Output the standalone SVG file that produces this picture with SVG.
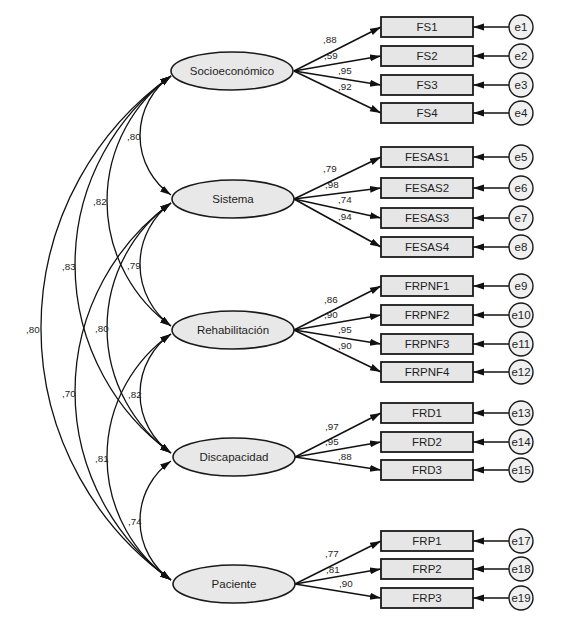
<svg xmlns="http://www.w3.org/2000/svg" width="565" height="623" viewBox="0 0 565 623">
<style>
text{font-family:"Liberation Sans",Arial,sans-serif;fill:#1e1e1e}
.lat{fill:#e8e8e8;stroke:#1a1a1a;stroke-width:1.6}
.box{fill:#e6e6e6;stroke:#1a1a1a;stroke-width:1.8}
.err{fill:#f0f0f0;stroke:#1a1a1a;stroke-width:1.4}
.nl{font-size:11.5px;text-anchor:middle}
.lb{font-size:9.8px}
.ld{stroke:#111;stroke-width:1.5;fill:none;marker-end:url(#ah)}
.cv{stroke:#111;stroke-width:1.3;fill:none;marker-end:url(#ah);marker-start:url(#ah)}
</style>
<defs>
<marker id="ah" markerUnits="userSpaceOnUse" markerWidth="12" markerHeight="8" refX="11" refY="3.5" orient="auto-start-reverse">
<path d="M0,0 L11,3.5 L0,7 z" fill="#111"/>
</marker>
</defs>
<g id="connectors">
<path class="ld" d="M294 71 L381 27"/>
<path class="ld" d="M294 71 L381 56"/>
<path class="ld" d="M294 71 L381 85"/>
<path class="ld" d="M294 71 L381 113"/>
<path class="ld" d="M294 199 L381 157"/>
<path class="ld" d="M294 199 L381 188"/>
<path class="ld" d="M294 199 L381 218"/>
<path class="ld" d="M294 199 L381 247"/>
<path class="ld" d="M294 330 L381 286"/>
<path class="ld" d="M294 330 L381 315"/>
<path class="ld" d="M294 330 L381 344"/>
<path class="ld" d="M294 330 L381 372"/>
<path class="ld" d="M295 457 L381 413"/>
<path class="ld" d="M295 457 L381 442"/>
<path class="ld" d="M295 457 L381 470"/>
<path class="ld" d="M295 584 L381 541"/>
<path class="ld" d="M295 584 L381 569"/>
<path class="ld" d="M295 584 L381 598"/>
<path class="ld" d="M509 27 L473 27"/>
<path class="ld" d="M509 56 L473 56"/>
<path class="ld" d="M509 85 L473 85"/>
<path class="ld" d="M509 113 L473 113"/>
<path class="ld" d="M509 157 L473 157"/>
<path class="ld" d="M509 188 L473 188"/>
<path class="ld" d="M509 218 L473 218"/>
<path class="ld" d="M509 247 L473 247"/>
<path class="ld" d="M509 286 L473 286"/>
<path class="ld" d="M509 315 L473 315"/>
<path class="ld" d="M509 344 L473 344"/>
<path class="ld" d="M509 372 L473 372"/>
<path class="ld" d="M509 413 L473 413"/>
<path class="ld" d="M509 442 L473 442"/>
<path class="ld" d="M509 470 L473 470"/>
<path class="ld" d="M509 541 L473 541"/>
<path class="ld" d="M509 569 L473 569"/>
<path class="ld" d="M509 598 L473 598"/>
<path class="cv" d="M171 76 A72.6 72.6 0 0 0 171 195"/>
<path class="cv" d="M171 76 A154.1 154.1 0 0 0 171 326"/>
<path class="cv" d="M171 76 A233.1 233.1 0 0 0 171 453"/>
<path class="cv" d="M171 76 A309.2 309.2 0 0 0 171 580"/>
<path class="cv" d="M171 203 A76.5 76.5 0 0 0 171 326"/>
<path class="cv" d="M171 203 A154.1 154.1 0 0 0 171 453"/>
<path class="cv" d="M171 203 A233.1 233.1 0 0 0 171 580"/>
<path class="cv" d="M171 334 A72.6 72.6 0 0 0 171 453"/>
<path class="cv" d="M171 334 A150.2 150.2 0 0 0 171 580"/>
<path class="cv" d="M171 461 A72.6 72.6 0 0 0 171 580"/>
<g class="lb">
<text x="323" y="43">,88</text>
<text x="324" y="59">,59</text>
<text x="338" y="74">,95</text>
<text x="338" y="90">,92</text>
<text x="323" y="172">,79</text>
<text x="325" y="188">,98</text>
<text x="338" y="203">,74</text>
<text x="338" y="220">,94</text>
<text x="324" y="303">,86</text>
<text x="324" y="318">,90</text>
<text x="338" y="333">,95</text>
<text x="338" y="349">,90</text>
<text x="325" y="430">,97</text>
<text x="325" y="445">,95</text>
<text x="338" y="460">,88</text>
<text x="325" y="557">,77</text>
<text x="326" y="573">,81</text>
<text x="339" y="587">,90</text>
<text x="127" y="140">,80</text>
<text x="93" y="205">,82</text>
<text x="62" y="270">,83</text>
<text x="26" y="333">,80</text>
<text x="127" y="269">,79</text>
<text x="95" y="332">,80</text>
<text x="62" y="397">,70</text>
<text x="128" y="398">,82</text>
<text x="95" y="462">,81</text>
<text x="128" y="525">,74</text>
</g>
</g>
<g id="socioeconomico"><ellipse class="lat" cx="232" cy="71" rx="61" ry="19"/><text class="nl" x="232" y="75">Socioeconómico</text></g>
<g id="sistema"><ellipse class="lat" cx="233" cy="199" rx="61" ry="19"/><text class="nl" x="233" y="203">Sistema</text></g>
<g id="rehabilitacion"><ellipse class="lat" cx="233" cy="330" rx="61" ry="19"/><text class="nl" x="233" y="334">Rehabilitación</text></g>
<g id="discapacidad"><ellipse class="lat" cx="234" cy="457" rx="61" ry="19"/><text class="nl" x="234" y="461">Discapacidad</text></g>
<g id="paciente"><ellipse class="lat" cx="234" cy="584" rx="61" ry="19"/><text class="nl" x="234" y="588">Paciente</text></g>
<g id="FS1"><rect class="box" x="381" y="17" width="92" height="20"/><text class="nl" x="427" y="31">FS1</text></g>
<g id="FS2"><rect class="box" x="381" y="46" width="92" height="20"/><text class="nl" x="427" y="60">FS2</text></g>
<g id="FS3"><rect class="box" x="381" y="75" width="92" height="20"/><text class="nl" x="427" y="89">FS3</text></g>
<g id="FS4"><rect class="box" x="381" y="103" width="92" height="20"/><text class="nl" x="427" y="117">FS4</text></g>
<g id="FESAS1"><rect class="box" x="381" y="147" width="92" height="20"/><text class="nl" x="427" y="161">FESAS1</text></g>
<g id="FESAS2"><rect class="box" x="381" y="178" width="92" height="20"/><text class="nl" x="427" y="192">FESAS2</text></g>
<g id="FESAS3"><rect class="box" x="381" y="208" width="92" height="20"/><text class="nl" x="427" y="222">FESAS3</text></g>
<g id="FESAS4"><rect class="box" x="381" y="237" width="92" height="20"/><text class="nl" x="427" y="251">FESAS4</text></g>
<g id="FRPNF1"><rect class="box" x="381" y="276" width="92" height="20"/><text class="nl" x="427" y="290">FRPNF1</text></g>
<g id="FRPNF2"><rect class="box" x="381" y="305" width="92" height="20"/><text class="nl" x="427" y="319">FRPNF2</text></g>
<g id="FRPNF3"><rect class="box" x="381" y="334" width="92" height="20"/><text class="nl" x="427" y="348">FRPNF3</text></g>
<g id="FRPNF4"><rect class="box" x="381" y="362" width="92" height="20"/><text class="nl" x="427" y="376">FRPNF4</text></g>
<g id="FRD1"><rect class="box" x="381" y="403" width="92" height="20"/><text class="nl" x="427" y="417">FRD1</text></g>
<g id="FRD2"><rect class="box" x="381" y="432" width="92" height="20"/><text class="nl" x="427" y="446">FRD2</text></g>
<g id="FRD3"><rect class="box" x="381" y="460" width="92" height="20"/><text class="nl" x="427" y="474">FRD3</text></g>
<g id="FRP1"><rect class="box" x="381" y="531" width="92" height="20"/><text class="nl" x="427" y="545">FRP1</text></g>
<g id="FRP2"><rect class="box" x="381" y="559" width="92" height="20"/><text class="nl" x="427" y="573">FRP2</text></g>
<g id="FRP3"><rect class="box" x="381" y="588" width="92" height="20"/><text class="nl" x="427" y="602">FRP3</text></g>
<g id="e1"><circle class="err" cx="521" cy="27" r="12"/><text class="nl" x="521" y="31">e1</text></g>
<g id="e2"><circle class="err" cx="521" cy="56" r="12"/><text class="nl" x="521" y="60">e2</text></g>
<g id="e3"><circle class="err" cx="521" cy="85" r="12"/><text class="nl" x="521" y="89">e3</text></g>
<g id="e4"><circle class="err" cx="521" cy="113" r="12"/><text class="nl" x="521" y="117">e4</text></g>
<g id="e5"><circle class="err" cx="521" cy="157" r="12"/><text class="nl" x="521" y="161">e5</text></g>
<g id="e6"><circle class="err" cx="521" cy="188" r="12"/><text class="nl" x="521" y="192">e6</text></g>
<g id="e7"><circle class="err" cx="521" cy="218" r="12"/><text class="nl" x="521" y="222">e7</text></g>
<g id="e8"><circle class="err" cx="521" cy="247" r="12"/><text class="nl" x="521" y="251">e8</text></g>
<g id="e9"><circle class="err" cx="521" cy="286" r="12"/><text class="nl" x="521" y="290">e9</text></g>
<g id="e10"><circle class="err" cx="521" cy="315" r="12"/><text class="nl" x="521" y="319">e10</text></g>
<g id="e11"><circle class="err" cx="521" cy="344" r="12"/><text class="nl" x="521" y="348">e11</text></g>
<g id="e12"><circle class="err" cx="521" cy="372" r="12"/><text class="nl" x="521" y="376">e12</text></g>
<g id="e13"><circle class="err" cx="521" cy="413" r="12"/><text class="nl" x="521" y="417">e13</text></g>
<g id="e14"><circle class="err" cx="521" cy="442" r="12"/><text class="nl" x="521" y="446">e14</text></g>
<g id="e15"><circle class="err" cx="521" cy="470" r="12"/><text class="nl" x="521" y="474">e15</text></g>
<g id="e17"><circle class="err" cx="521" cy="541" r="12"/><text class="nl" x="521" y="545">e17</text></g>
<g id="e18"><circle class="err" cx="521" cy="569" r="12"/><text class="nl" x="521" y="573">e18</text></g>
<g id="e19"><circle class="err" cx="521" cy="598" r="12"/><text class="nl" x="521" y="602">e19</text></g>
</svg>
